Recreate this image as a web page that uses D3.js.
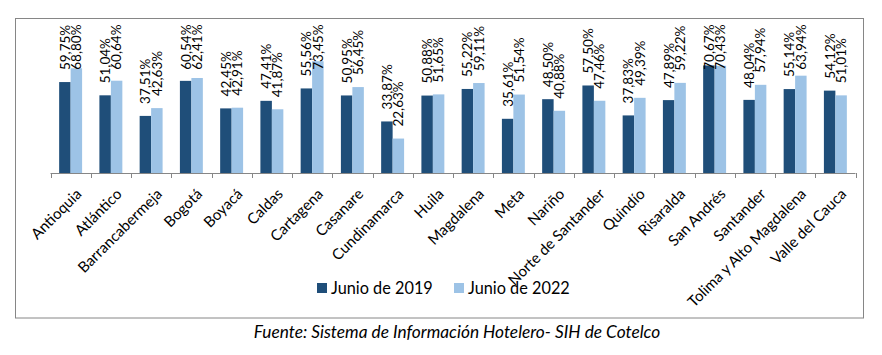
<!DOCTYPE html>
<html><head><meta charset="utf-8">
<script src="https://cdn.jsdelivr.net/npm/d3@7"></script>
<style>
html,body{margin:0;padding:0;background:#fff;}
svg{display:block;}
</style></head>
<body>
<svg id="chart" width="882" height="355"></svg>
<script>
const categories = ["Antioquia","Atlántico","Barrancabermeja","Bogotá","Boyacá","Caldas","Cartagena","Casanare","Cundinamarca","Huila","Magdalena","Meta","Nariño","Norte de Santander","Quindío","Risaralda","San Andrés","Santander","Tolima y Alto Magdalena","Valle del Cauca"];
const seriesNames = ["Junio de 2019","Junio de 2022"];
const junio2019 = [59.75,51.04,37.51,60.54,42.45,47.41,55.56,50.95,33.87,50.88,55.22,35.61,48.50,57.50,37.83,47.89,70.67,48.04,55.14,54.12];
const junio2022 = [68.80,60.64,42.63,62.41,42.91,41.87,73.45,56.45,22.63,51.65,59.11,51.54,40.88,47.46,49.39,59.22,70.43,57.94,63.94,51.01];
const colors = ["#1F4E79","#9DC3E6"];
const footer = "Fuente: Sistema de Información Hotelero- SIH de Cotelco";

const FONT = "Lato, 'Open Sans', sans-serif";
const svg = d3.select("#chart");

// outer border
svg.append("rect").attr("x",15.5).attr("y",18.5).attr("width",848).attr("height",299.5)
  .attr("fill","none").attr("stroke","#868686").attr("stroke-width",1);

const baseY = 173;
const x = d3.scaleBand().domain(categories).range([50.5, 855.5]).paddingInner(0).paddingOuter(0);
const bw = x.bandwidth();
const x1 = d3.scaleBand().domain([0,1]).range([bw*0.215, bw*0.785]);
const y = d3.scaleLinear().domain([0,80]).range([baseY, baseY - 80*1.522]);

const data = categories.map((c,i)=>({c, vals:[junio2019[i], junio2022[i]]}));
const fmt = v => d3.format(".2f")(v).replace(".", ",") + "%";

const g = svg.append("g");
const groups = g.selectAll("g.cat").data(data).join("g").attr("class","cat")
  .attr("transform", d=>`translate(${x(d.c)},0)`);
groups.selectAll("rect").data(d=>d.vals.map((v,k)=>({v,k}))).join("rect")
  .attr("x", d=>x1(d.k)).attr("width", x1.bandwidth())
  .attr("y", d=>y(d.v)).attr("height", d=>baseY - y(d.v))
  .attr("fill", d=>colors[d.k]);

// data labels rotated
const labelTop = 24.5;
groups.selectAll("text.lbl").data(d=>d.vals.map((v,k)=>({v,k}))).join("text").attr("class","lbl")
  .text(d=>fmt(d.v))
  .attr("font-family", FONT).attr("font-size", 13.5).attr("fill","#000")
  .each(function(d){
    const len = this.getComputedTextLength();
    const start = Math.max(y(d.v) - 12, labelTop + len);
    const cx = x1(d.k) + x1.bandwidth()/2;
    d3.select(this).attr("transform", `translate(${cx},${start}) rotate(-90)`)
      .attr("dy","0.36em").attr("text-anchor","start");
  });

// axis
svg.append("line").attr("x1", x.range()[0]).attr("x2", x.range()[1])
  .attr("y1", baseY+0.5).attr("y2", baseY+0.5).attr("stroke","#868686");
const edges = categories.map(c=>x(c)).concat([x.range()[1]]);
svg.selectAll("line.tick").data(edges).join("line").attr("class","tick")
  .attr("x1", d=>Math.round(d)+0.5).attr("x2", d=>Math.round(d)+0.5)
  .attr("y1", baseY).attr("y2", baseY+5).attr("stroke","#868686");

// category labels
svg.selectAll("text.cat").data(categories).join("text").attr("class","cat")
  .text(d=>d)
  .attr("font-family", FONT).attr("font-size", 15).attr("fill","#000")
  .attr("text-anchor","end")
  .attr("transform", d=>`translate(${x(d)+bw/2+4},${baseY+14}) rotate(-45)`)
  .attr("dy","0.75em");

// legend
const leg = svg.append("g");
const legX = [317, 454];
seriesNames.forEach((s,k)=>{
  leg.append("rect").attr("x",legX[k]).attr("y",283).attr("width",10).attr("height",10).attr("fill",colors[k]);
  leg.append("text").attr("x",legX[k]+14).attr("y",288).attr("dy","0.36em")
    .attr("font-family",FONT).attr("font-size",16.3).attr("fill","#000").text(s);
});

// footer
svg.append("text").attr("x",457).attr("y",332).attr("dy","0.36em").attr("text-anchor","middle")
  .attr("font-family",FONT).attr("font-style","italic").attr("font-size",17.3).attr("fill","#000")
  .text(footer);
</script>
</body></html>
